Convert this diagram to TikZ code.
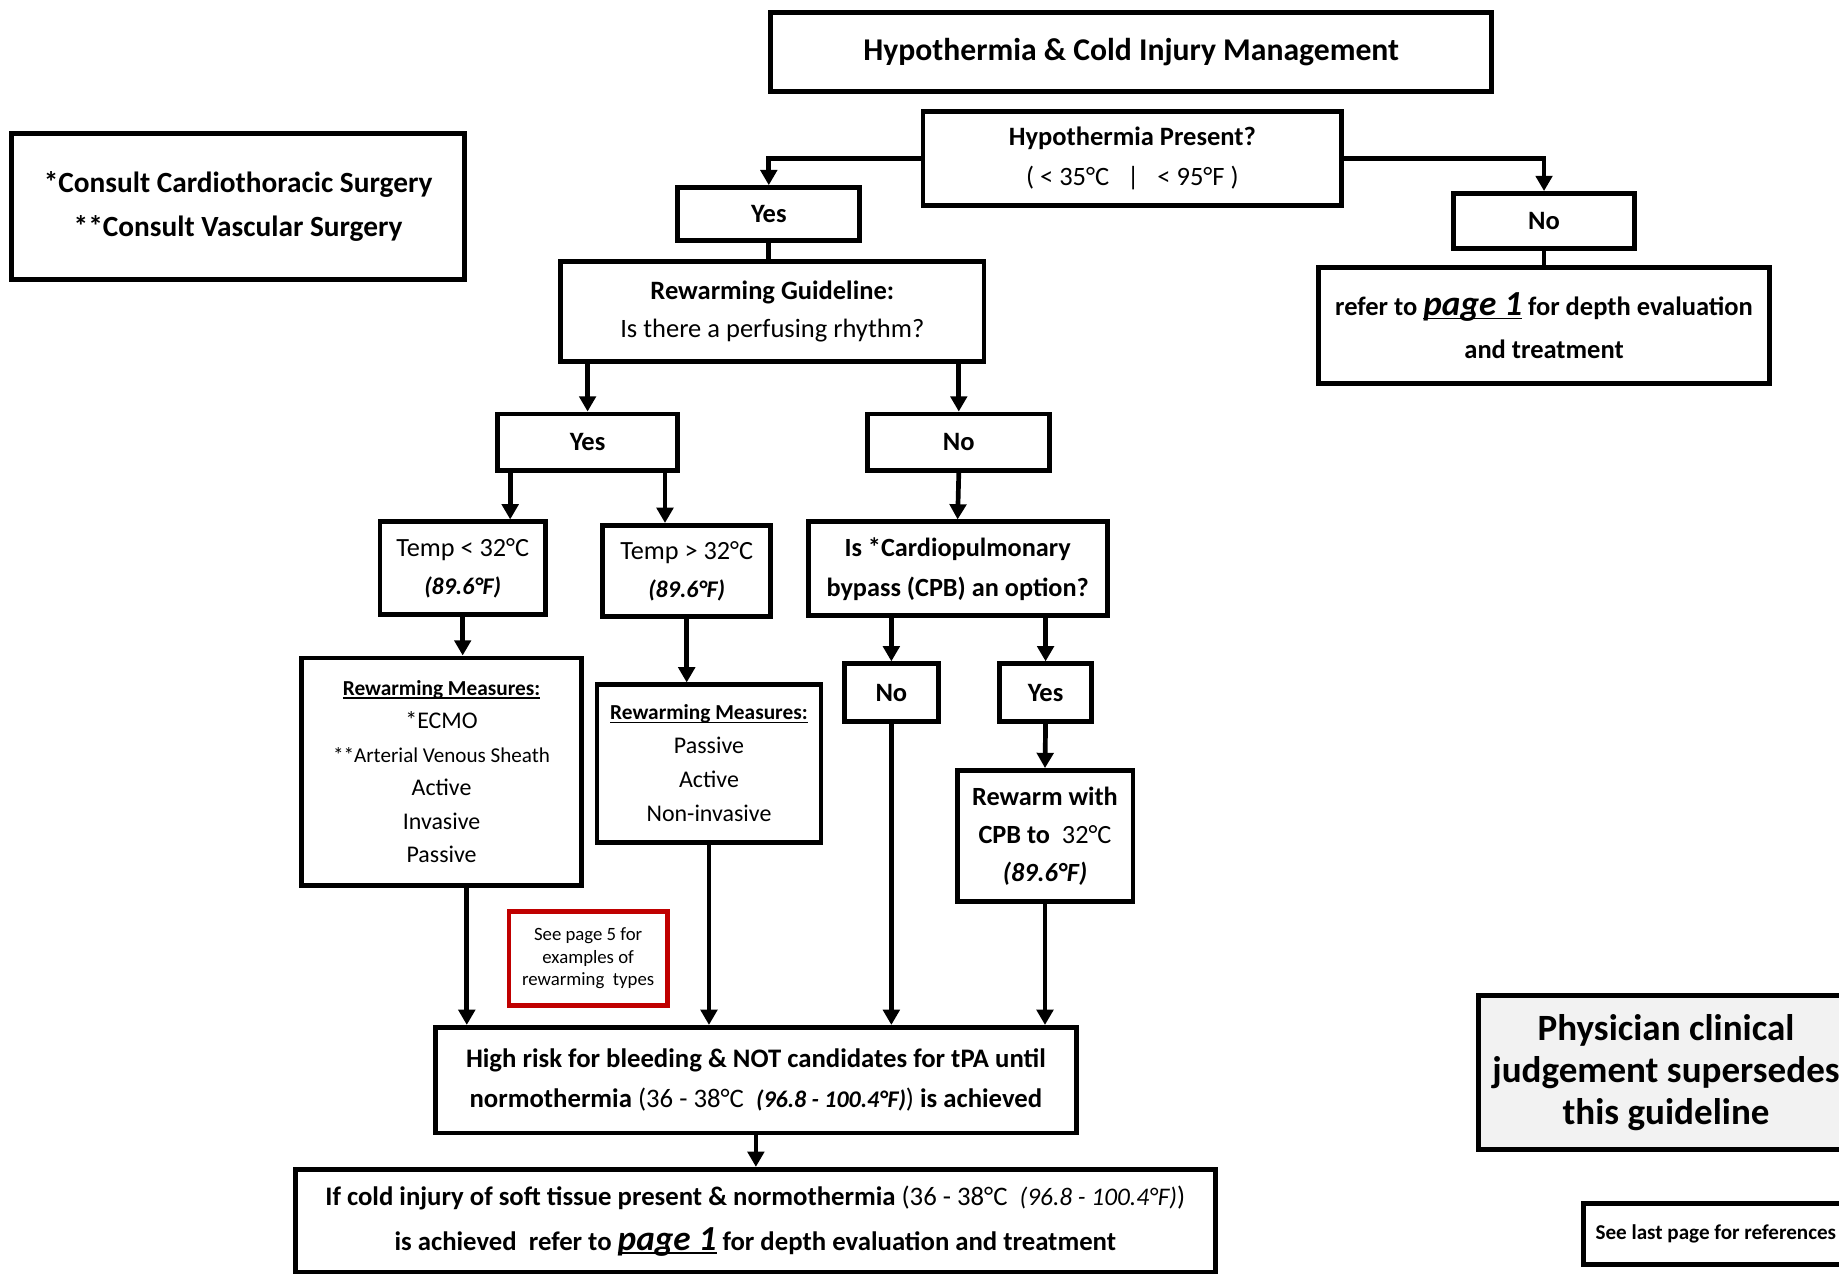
\documentclass[tikz,border=0pt]{standalone}
\usepackage{fontspec}
\setmainfont{Carlito}
\usetikzlibrary{arrows.meta}
\definecolor{boxred}{HTML}{C00000}
\definecolor{boxgray}{HTML}{F2F2F2}
\newcommand{\fsz}[2]{\fontsize{#1}{#2}\selectfont}
\newcommand{\ulin}[2][1.8pt]{\setbox0=\hbox{#2}\rlap{\rule[-#1]{\wd0}{0.75pt}}\box0}

\begin{document}
\begin{tikzpicture}[x=0.5pt,y=-0.5pt,
		box/.style={draw, line width=2.1pt, inner sep=0pt, align=center, font=\bfseries\fsz{11.3}{17}},
		arr/.style={line width=2pt, -{Triangle[length=6.5pt,width=7pt]}},
		ln/.style={line width=2pt}]

		\useasboundingbox (0,0) rectangle (1568,1086);
		\clip (0,0) rectangle (1568,1086);
		\fill[white] (0,0) rectangle (1568,1086);

		\node[box, minimum width=307.5pt, minimum height=33.5pt, font=\bfseries\fsz{13.5}{16}] (title) at (964.5,44.5) {Hypothermia \& Cold Injury Management};
		\node[box, minimum width=193pt, minimum height=62.5pt, font=\bfseries\fsz{12.5}{18.5}] (consult) at (203,176) {*Consult Cardiothoracic Surgery\\{**}Consult Vascular Surgery};
		\node[box, minimum width=178.5pt, minimum height=40pt] (hp) at (965.5,135) {Hypothermia Present?\\\mdseries ( < 35°C \ \ | \ \ < 95°F )};
		\node[box, minimum width=77.5pt, minimum height=22.5pt] (yes1) at (655.5,182.5) {Yes};
		\node[box, minimum width=77.5pt, minimum height=23.5pt] (no1) at (1316.5,188.5) {No};
		\node[box, minimum width=192.5pt, minimum height=49.5pt, font=\bfseries\fsz{11.3}{18.5}] (refer) at (1316.5,277.5) {refer to \textit{\ulin{\fsz{15}{18.5}page 1}} for depth evaluation\\and treatment};
		\node[box, minimum width=180.5pt, minimum height=42.5pt, font=\bfseries\fsz{11.3}{16.5}] (rg) at (658.5,265.5) {Rewarming Guideline:\\\mdseries Is there a perfusing rhythm?};

		\node[box, minimum width=77pt, minimum height=24pt] (yes2) at (501,377) {Yes};
		\node[box, minimum width=77.5pt, minimum height=24pt] (no2) at (817.5,377) {No};
		\node[box, minimum width=70.5pt, minimum height=39.5pt, font=\fsz{11.2}{16}] (tlow) at (394.5,484.5) {Temp < 32°C\\\textbf{\textit{\fsz{10.2}{16}(89.6°F)}}};
		\node[box, minimum width=71.5pt, minimum height=39pt, font=\fsz{11.2}{16}] (thigh) at (585.5,487) {Temp > 32°C\\\textbf{\textit{\fsz{10.2}{16}(89.6°F)}}};
		\node[box, minimum width=127.5pt, minimum height=40pt, font=\bfseries\fsz{11.2}{17}] (cpb) at (816.5,485) {Is *Cardiopulmonary\\bypass (CPB) an option?};
		\node[box, minimum width=40pt, minimum height=24.5pt] (no3) at (760,590.5) {No};
		\node[box, minimum width=39.5pt, minimum height=24.5pt] (yes3) at (891.5,590.5) {Yes};
		\node[box, minimum width=75pt, minimum height=56pt, font=\bfseries\fsz{11.2}{16.25}] (rewarm) at (891,713) {Rewarm with\\CPB to {\mdseries\ 32°C}\\\textit{(89.6°F)}};

		\node[box, minimum width=119.5pt, minimum height=97pt, font=\fsz{10.2}{14.3}] (meas1) at (376.5,658) {\textbf{\fsz{9.1}{14.3}\ulin[1.5pt]{Rewarming Measures:}}\\{*}ECMO\\{\fsz{9}{14.3}**Arterial Venous Sheath}\\Active\\Invasive\\Passive};
		\node[box, minimum width=95.5pt, minimum height=67pt, font=\fsz{10.2}{14.5}] (meas2) at (604.5,651) {\textbf{\fsz{9.1}{14.5}\ulin[1.5pt]{Rewarming Measures:}}\\Passive\\Active\\Non-invasive};
		\node[box, draw=boxred, minimum width=67.5pt, minimum height=40pt, font=\fsz{8}{9.75}] (red) at (501.5,817) {See page 5 for\\examples of\\rewarming\ \ types};

		\node[box, minimum width=273.5pt, minimum height=45pt, font=\bfseries\fsz{11.4}{17}] (risk) at (644.5,921) {High risk for bleeding \& NOT candidates for tPA until\\normothermia {\mdseries(36 - 38°C\ \ }\textit{\fsz{10.2}{17}(96.8 - 100.4°F)}{\mdseries)} is achieved};
		\node[box, minimum width=392pt, minimum height=44pt, font=\bfseries\fsz{11.4}{19}] (final) at (644,1041) {If cold injury of soft tissue present \& normothermia {\mdseries(36 - 38°C\ \ \textit{\fsz{10.8}{19}(96.8 - 100.4°F)})}\\is achieved\ \ refer to \textit{\ulin{\fsz{15}{19}page 1}} for depth evaluation and treatment};

		\node[box, fill=boxgray, minimum width=159.5pt, minimum height=65.5pt, font=\bfseries\fsz{15.8}{18}] (phys) at (1420.5,914.5) {Physician clinical\\judgement supersedes\\this guideline};
		\node[box, minimum width=113pt, minimum height=26pt, font=\bfseries\fsz{9}{11}] (refs) at (1463,1052) {See last page for references};

		\draw[arr] (hp.west) -| (yes1.north);
		\draw[arr] (hp.east) -| (no1.north);
		\draw[ln] (no1.south) -- (refer.north);
		\draw[ln] (yes1.south) -- (yes1.south |- rg.north);
		\draw[arr] (yes2.north |- rg.south) -- (yes2.north);
		\draw[arr] (no2.north |- rg.south) -- (no2.north);
		\draw[arr] ([xshift=-33pt]yes2.south) -- ([xshift=-33pt]yes2.south |- tlow.north);
		\draw[arr] ([xshift=33pt]yes2.south) -- ([xshift=33pt]yes2.south |- thigh.north);
		\draw[arr] (no2.south) -- (cpb.north);
		\draw[arr] (no3.north |- cpb.south) -- (no3.north);
		\draw[arr] (yes3.north |- cpb.south) -- (yes3.north);
		\draw[arr] (yes3.south) -- (rewarm.north);
		\draw[arr] (tlow.south) -- (tlow.south |- meas1.north);
		\draw[arr] (thigh.south) -- (thigh.south |- meas2.north);
		\draw[arr] ([xshift=10.75pt]meas1.south) -- ([xshift=10.75pt]meas1.south |- risk.north);
		\draw[arr] (meas2.south) -- (meas2.south |- risk.north);
		\draw[arr] (no3.south) -- (no3.south |- risk.north);
		\draw[arr] (rewarm.south) -- (rewarm.south |- risk.north);
		\draw[arr] (risk.south) -- (risk.south |- final.north);

	\end{tikzpicture}
\end{document}
